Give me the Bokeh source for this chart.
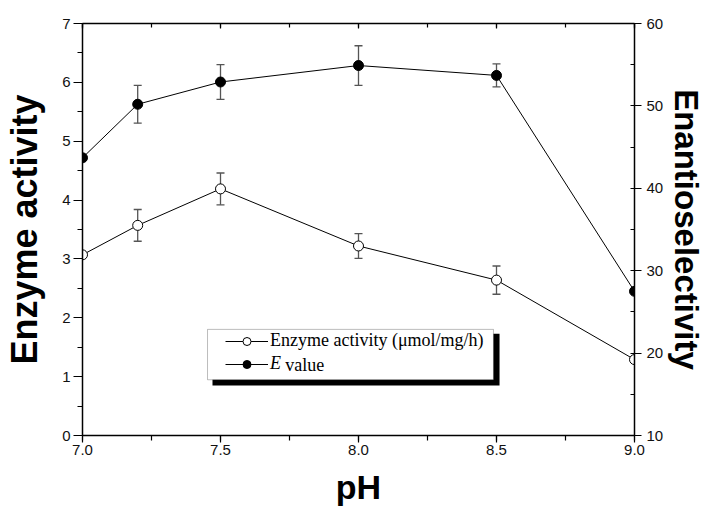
from bokeh.plotting import figure
from bokeh.models import (Range1d, LinearAxis, SingleIntervalTicker, PrintfTickFormatter,
                          Whisker, ColumnDataSource, TeeHead, BoxAnnotation, Legend,
                          LegendItem, Label, CustomJSTickFormatter)
from bokeh.embed import file_html
from bokeh.resources import INLINE

# ---- data ----
ph = [7.0, 7.2, 7.5, 8.0, 8.5, 9.0]
activity = [3.07, 3.57, 4.19, 3.22, 2.64, 1.29]
activity_err = [0.0, 0.27, 0.27, 0.21, 0.24, 0.0]
e_value = [43.7, 50.2, 52.9, 54.9, 53.7, 27.5]
e_err = [0.0, 2.3, 2.1, 2.4, 1.4, 0.0]

label_activity = "Enzyme activity (\u03bcmol/mg/h)"
label_e_italic = "E"
label_e_rest = "value"

SANS = "Liberation Sans"
SERIF = "Liberation Serif"

p = figure(width=709, height=511, x_range=Range1d(7.0, 9.0), y_range=Range1d(0, 7),
           output_backend="svg", toolbar_location=None,
           min_border_left=82, min_border_right=75, min_border_top=23, min_border_bottom=76)
p.extra_y_ranges = {"E": Range1d(10, 60)}
p.grid.visible = False
p.outline_line_color = None
p.background_fill_color = "white"
p.border_fill_color = "white"


def style_axis(ax, tick_out=8, minor_out=5, tick_in=0, minor_in=0):
    ax.axis_line_width = 1.5
    ax.axis_line_color = "black"
    ax.major_tick_line_color = "black"
    ax.minor_tick_line_color = "black"
    ax.major_tick_line_width = 1.2
    ax.minor_tick_line_width = 1.2
    ax.major_tick_out = tick_out
    ax.major_tick_in = tick_in
    ax.minor_tick_out = minor_out
    ax.minor_tick_in = minor_in
    ax.major_label_text_font = SANS
    ax.major_label_text_font_size = "15px"
    ax.major_label_text_color = "#111111"
    ax.axis_label_text_font = SANS
    ax.axis_label_text_font_style = "bold"
    ax.axis_label_text_color = "black"


# bottom axis
xa = p.xaxis[0]
xa.ticker = SingleIntervalTicker(interval=0.5, num_minor_ticks=2)
xa.formatter = PrintfTickFormatter(format="%.1f")
style_axis(xa, tick_out=7, minor_out=5)
xa.major_label_standoff = 2
xa.axis_label = "pH"
xa.axis_label_text_font_size = "34px"
xa.axis_label_standoff = 10

# left axis
ya = p.yaxis[0]
ya.ticker = SingleIntervalTicker(interval=1, num_minor_ticks=2)
style_axis(ya, tick_out=9, minor_out=5)
ya.major_label_standoff = 3
ya.axis_label = "Enzyme activity"
ya.axis_label_text_font_size = "36px"
ya.axis_label_standoff = 14

# right axis
ra = LinearAxis(y_range_name="E", ticker=SingleIntervalTicker(interval=10, num_minor_ticks=2))
style_axis(ra, tick_out=7, minor_out=0, minor_in=4)
ra.major_label_standoff = 5
ra.axis_label = "Enantioselectivity"
ra.axis_label_text_font_size = "33px"
ra.axis_label_standoff = 2
p.add_layout(ra, "right")

# top axis (frame edge, ticks inside, no labels)
ta = LinearAxis(ticker=SingleIntervalTicker(interval=0.5, num_minor_ticks=2),
                formatter=CustomJSTickFormatter(code="return ''"))
style_axis(ta, tick_out=0, minor_out=0, tick_in=5, minor_in=4)
ta.major_label_standoff = 0
p.add_layout(ta, "above")

# ---- error bars ----
idx_a = [i for i, e in enumerate(activity_err) if e > 0]
src_wa = ColumnDataSource(dict(
    x=[ph[i] for i in idx_a],
    lo=[activity[i] - activity_err[i] for i in idx_a],
    hi=[activity[i] + activity_err[i] for i in idx_a]))
idx_e = [i for i, e in enumerate(e_err) if e > 0]
src_we = ColumnDataSource(dict(
    x=[ph[i] for i in idx_e],
    lo=[e_value[i] - e_err[i] for i in idx_e],
    hi=[e_value[i] + e_err[i] for i in idx_e]))

for src, rng in ((src_wa, "default"), (src_we, "E")):
    w = Whisker(source=src, base="x", lower="lo", upper="hi", dimension="height",
                line_color="#555555", line_width=1.3, y_range_name=rng,
                upper_head=TeeHead(size=8, line_color="#555555", line_width=1.3),
                lower_head=TeeHead(size=8, line_color="#555555", line_width=1.3))
    p.add_layout(w)

# ---- series ----
src_a = ColumnDataSource(dict(x=ph, y=activity))
src_e = ColumnDataSource(dict(x=ph, y=e_value))

la = p.line("x", "y", source=src_a, line_color="black", line_width=1)
sa = p.scatter("x", "y", source=src_a, size=10, marker="circle",
               fill_color="white", line_color="black", line_width=1)
le = p.line("x", "y", source=src_e, line_color="black", line_width=1, y_range_name="E")
se = p.scatter("x", "y", source=src_e, size=10, marker="circle",
               fill_color="black", line_color="black", line_width=1, y_range_name="E")

# ---- legend box with shadow ----
shadow = BoxAnnotation(left=7.471, right=8.511, top=1.73, bottom=0.850,
                       fill_color="black", fill_alpha=1.0, line_color=None)
box = BoxAnnotation(left=7.453, right=8.489, top=1.803, bottom=0.947,
                    fill_color="white", fill_alpha=1.0, line_color="#222222", line_width=1)
p.add_layout(shadow)
p.add_layout(box)


def make_legend(item, loc, italic):
    lg = Legend(items=[item], location=loc, padding=0, margin=0, spacing=0,
                glyph_width=43, glyph_height=20, label_height=20, label_standoff=2,
                label_text_font=SERIF, label_text_font_size="18px",
                label_text_color="black",
                label_text_font_style="italic" if italic else "normal",
                border_line_alpha=0, background_fill_alpha=0)
    return lg


lg1 = make_legend(LegendItem(label=label_activity, renderers=[la, sa]), (143, 84), False)
lg2 = make_legend(LegendItem(label=label_e_italic, renderers=[le, se]), (143, 61), True)
p.add_layout(lg1, "center")
p.add_layout(lg2, "center")

p.add_layout(Label(x=7.735, y=1.202, text=label_e_rest, text_font=SERIF,
                   text_font_size="18px", text_color="black", text_baseline="middle"))

open("out.html", "w").write(file_html(p, INLINE))
